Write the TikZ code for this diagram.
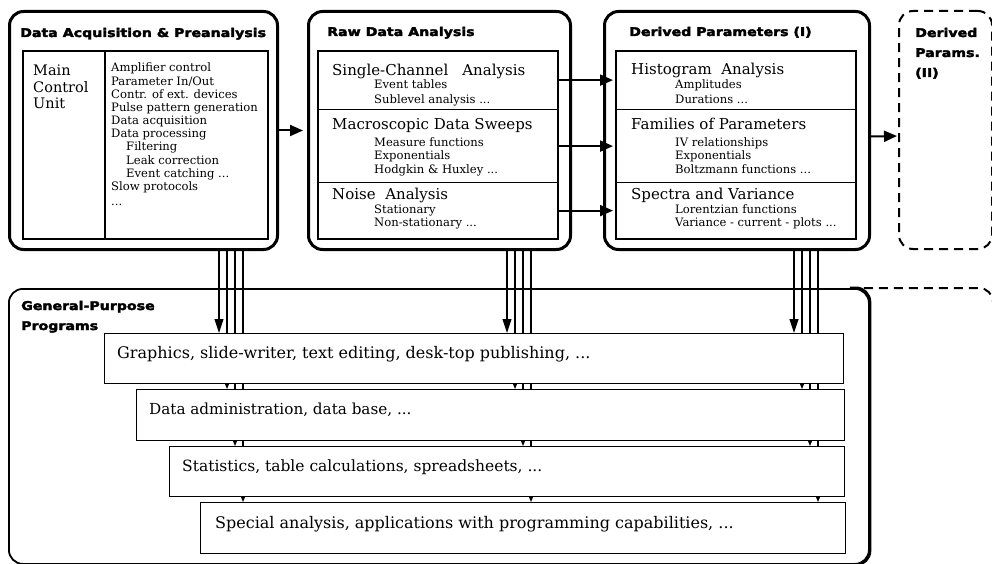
\documentclass[tikz,border=0pt]{standalone}
\usepackage{fontspec}
\setmainfont{DejaVu Serif}
\newfontfamily\headfont{DejaVu Sans Bold}[FakeBold=3, FakeStretch=1.18]
\usetikzlibrary{arrows.meta}

\tikzset{
  panel/.style={draw, line width=3pt, rounded corners=14pt, fill=white, anchor=north west, inner sep=0pt},
  pending/.style={draw, line width=2pt, dash pattern=on 9pt off 6pt, rounded corners=14pt},
  frame/.style={draw, line width=1.6pt, anchor=north west, inner sep=0pt},
  section/.style={draw, line width=1.2pt, anchor=north west, inner sep=0pt},
  prog/.style={draw, line width=1.2pt, fill=white, anchor=north west, inner sep=0pt},
  head/.style={anchor=base west, inner sep=0pt, font=\headfont\fontsize{12}{14}\selectfont},
  big/.style={anchor=base west, inner sep=0pt, font=\fontsize{15}{18}\selectfont},
  layer/.style={anchor=base west, inner sep=0pt, font=\fontsize{#1}{18}\selectfont},
  unit/.style={anchor=base west, inner sep=0pt, font=\fontsize{14.5}{17}\selectfont},
  small/.style={anchor=base west, inner sep=0pt, font=\fontsize{11.6}{13}\selectfont},
  flow/.style={line width=2pt, -{Triangle[length=13pt,width=11pt]}},
  feed/.style={line width=1.1pt},
  firstfeed/.style={feed, -{Triangle[length=14pt,width=9pt]}},
  nextfeed/.style={feed, -{Triangle[length=10pt,width=8pt]}},
}

\begin{document}
\begin{tikzpicture}[x=1pt,y=-1pt]
\useasboundingbox (0,0) rectangle (992,564);

% ---- top row: processing stages
\node[panel, minimum width=268pt, minimum height=238pt] (A) at (8,10) {};
\node[panel, minimum width=262pt, minimum height=238pt] (B) at (307,10) {};
\node[panel, minimum width=265pt, minimum height=238pt] (C) at (603,10) {};
\node[pending, anchor=north west, inner sep=0pt, minimum width=93pt, minimum height=238pt] (D) at (898,10) {};

% inner frames of stage A
\node[frame, minimum width=82pt, minimum height=188pt] (Amcu) at (22,50) {};
\node[frame, minimum width=163pt, minimum height=188pt] (Alist) at (104,50) {};

% inner sections of stage B
\node[section, minimum width=240pt, minimum height=59pt] (B1) at (317,50) {};
\node[section, minimum width=240pt, minimum height=73pt] (B2) at (317,109) {};
\node[section, minimum width=240pt, minimum height=56pt] (B3) at (317,182) {};
\node[frame, minimum width=240pt, minimum height=188pt] (Bf) at (317,50) {};

% inner sections of stage C
\node[section, minimum width=240pt, minimum height=59pt] (C1) at (615,50) {};
\node[section, minimum width=240pt, minimum height=73pt] (C2) at (615,109) {};
\node[section, minimum width=240pt, minimum height=56pt] (C3) at (615,182) {};
\node[frame, minimum width=240pt, minimum height=188pt] (Cf) at (615,50) {};

% ---- bottom: general-purpose programs
\node[draw, line width=1.8pt, rounded corners=14pt, anchor=north west, inner sep=0pt,
      minimum width=860pt, minimum height=275pt] (GP) at (8,288) {};
\draw[line width=3pt, rounded corners=14pt] ([xshift=-20pt]GP.north east) -- (GP.north east) -- (GP.south east) -- ([xshift=-20pt]GP.south east);
\coordinate (Dfar) at (993,288);
\draw[pending] ([xshift=-6pt]GP.north east) -- (Dfar) -- ++(0,330);

% feed lines from each stage down to the program layers (drawn behind the layers)
\coordinate (G1n) at (104,333);
\coordinate (G2n) at (136,389);
\coordinate (G3n) at (169,446);
\coordinate (G4n) at (200,502);
\foreach \n/\x in {a/219,b/507,c/794}
  \foreach \k in {1,...,4}
    \coordinate (\n\k) at ({\x+8*(\k-1)},0);

\foreach \n/\P in {a/A,b/B,c/C} {
  \draw[firstfeed] (\P.south -| \n1) -- (G1n -| \n1);
  \draw[nextfeed]  (\P.south -| \n2) -- (G2n -| \n2);
  \draw[nextfeed]  (\P.south -| \n3) -- (G3n -| \n3);
  \draw[nextfeed]  (\P.south -| \n4) -- (G4n -| \n4);
}

% program layers
\node[prog, minimum width=739pt, minimum height=50pt] (G1) at (G1n) {};
\node[prog, minimum width=708pt, minimum height=51pt] (G2) at (G2n) {};
\node[prog, minimum width=675pt, minimum height=50pt] (G3) at (G3n) {};
\node[prog, minimum width=645pt, minimum height=51pt] (G4) at (G4n) {};

\node[layer=16] (G1t) at (117,358) {Graphics, slide-writer, text editing, desk-top publishing, ...};
\node[layer=15.2] (G2t) at (149,414) {Data administration, data base, ...};
\node[layer=15.5] (G3t) at (182,471) {Statistics, table calculations, spreadsheets, ...};
\node[layer=16] (G4t) at (215,528) {Special analysis, applications with programming capabilities, ...};

\node[head] (GPt1) at (21,310) {General-Purpose};
\node[head] (GPt2) at (21,330) {Programs};

% ---- flow between stages
\draw[flow, shorten >=4pt] (A.east) -- (B.west);
\draw[flow, shorten >=2pt] (B1.east) -- (C1.west);
\draw[flow, shorten >=2pt] (B2.east) -- (C2.west);
\draw[flow, shorten >=2pt] (B3.east) -- (C3.west);
\draw[flow, shorten >=1pt] ([yshift=-6pt]C.east) -- ([yshift=-6pt]D.west);

% ---- texts of stage A
\node[head] (At) at (20,37) {Data Acquisition \& Preanalysis};
\node[unit] (Au1) at (33,76) {Main};
\node[unit] (Au2) at (33,92.5) {Control};
\node[unit] (Au3) at (33,109) {Unit};
\node[small] (Al0)  at (111,72)    {Amplifier control};
\node[small] (Al1)  at (111,85.2)  {Parameter In/Out};
\node[small] (Al2)  at (111,98.3)  {Contr. of ext. devices};
\node[small] (Al3)  at (111,111.5) {Pulse pattern generation};
\node[small] (Al4)  at (111,124.6) {Data acquisition};
\node[small] (Al5)  at (111,137.8) {Data processing};
\node[small] (Al6)  at (126,150.9) {Filtering};
\node[small] (Al7)  at (126,164.1) {Leak correction};
\node[small] (Al8)  at (126,177.2) {Event catching ...};
\node[small] (Al9)  at (111,190.4) {Slow protocols};
\node[small] (Al10) at (111,205)   {...};

% ---- texts of stage B
\node[head] (Bt) at (327,36) {Raw Data Analysis};
\node[big] (Bh1) at (332,76) {Single-Channel\hspace{14pt}Analysis};
\node[small] (Bs11) at (374,89)  {Event tables};
\node[small] (Bs12) at (374,104) {Sublevel analysis ...};
\node[big] (Bh2) at (332,130) {Macroscopic Data Sweeps};
\node[small] (Bs21) at (374,147) {Measure functions};
\node[small] (Bs22) at (374,160) {Exponentials};
\node[small] (Bs23) at (374,173) {Hodgkin \& Huxley ...};
\node[big] (Bh3) at (332,200) {Noise\ \ Analysis};
\node[small] (Bs31) at (374,213) {Stationary};
\node[small] (Bs32) at (374,226) {Non-stationary ...};

% ---- texts of stage C
\node[head] (Ct) at (629,36) {Derived Parameters (I)};
\node[big] (Ch1) at (631,75) {Histogram\ \ Analysis};
\node[small] (Cs11) at (675,89)  {Amplitudes};
\node[small] (Cs12) at (675,104) {Durations ...};
\node[big] (Ch2) at (631,130) {Families of Parameters};
\node[small] (Cs21) at (675,147) {IV relationships};
\node[small] (Cs22) at (675,160) {Exponentials};
\node[small] (Cs23) at (675,173) {Boltzmann functions ...};
\node[big] (Ch3) at (631,200) {Spectra and Variance};
\node[small] (Cs31) at (675,213) {Lorentzian functions};
\node[small] (Cs32) at (675,226) {Variance - current - plots ...};

% ---- texts of stage D
\node[head] (Dt1) at (915,37) {Derived};
\node[head] (Dt2) at (915,57) {Params.};
\node[head] (Dt3) at (915,77) {(II)};
\end{tikzpicture}
\end{document}
